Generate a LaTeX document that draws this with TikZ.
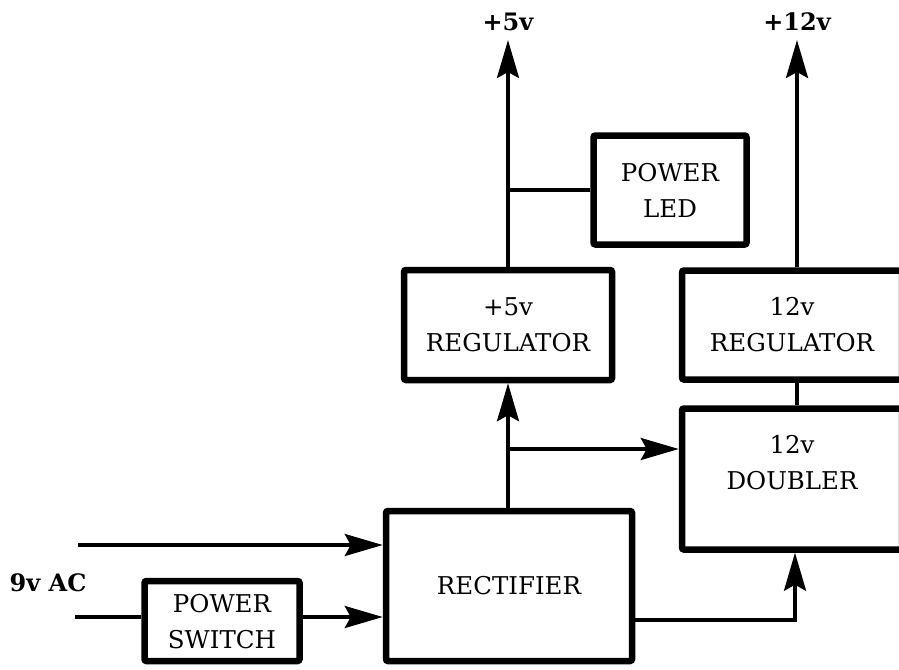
\documentclass[tikz,border=0pt]{standalone}
\usepackage{fontspec}
\setmainfont{DejaVu Serif}
\usetikzlibrary{arrows.meta,positioning}

\begin{document}
\begin{tikzpicture}[x=1pt, y=-1pt,
    blk/.style={draw, line width=6.5pt, rounded corners=2pt, align=center, inner sep=0pt,
                font=\fontsize{24.5}{36}\selectfont},
    wire/.style={line width=3.5pt},
    feed/.style={wire, -{Stealth[length=38pt, width=22pt, inset=6pt]}},
    rail/.style={font=\bfseries\fontsize{24}{28}\selectfont}]
    \useasboundingbox (0,0) rectangle (899,669);
    \clip (0,0) rectangle (899,669);

    % Blocks (the 12v ones run off the right edge)
    \node[blk, minimum width=153pt, minimum height=109pt, text depth=-8pt] (LED) at (670,190) {POWER\\LED};
    \node[blk, minimum width=208pt, minimum height=110pt] (REG5) at (508,325) {+5v\\REGULATOR};
    \node[blk, minimum width=220pt, minimum height=109pt] (REG12) at (792,325) {12v\\REGULATOR};
    \node[blk, minimum width=220pt, minimum height=141pt, text depth=34pt] (DBL) at (792,479) {12v\\DOUBLER};
    \node[blk, minimum width=246pt, minimum height=150pt] (RECT) at (509,586) {RECTIFIER};
    \node[blk, minimum width=155pt, minimum height=80pt, text depth=-8pt] (SW) at (222,621) {POWER\\SWITCH};

    % Outputs and inputs
    \coordinate (top5) at (508,40);
    \coordinate (top12) at (797,40);
    \coordinate (split) at (508,449);
    \coordinate (rd) at (795,620);
    \coordinate (in1) at (78,545);
    \coordinate (in2) at (75,617);
    \node[rail, anchor=south, yshift=6pt] (V5) at (top5) {+5v};
    \node[rail, anchor=south, yshift=6pt] (V12) at (top12) {+12v};
    \node[rail] (AC) at (48,583) {9v AC};

    % +5v rail
    \draw[feed] (REG5.north) -- (top5);
    \draw[wire] (LED.west) -- (LED.west -| REG5.north);
    \draw[feed] (RECT.north -| REG5.south) -- (REG5.south);
    \draw[feed] (split) -- (split -| DBL.west);

    % +12v rail
    \draw[feed] (REG12.north -| top12) -- (top12);
    \draw[wire] (REG12.south -| top12) -- (DBL.north -| top12);
    \draw[feed] (rd -| RECT.east) -- (rd) -- (rd |- DBL.south);

    % AC input
    \draw[feed] (in1) -- (in1 -| RECT.west);
    \draw[wire] (in2) -- (in2 -| SW.west);
    \draw[feed] (in2 -| SW.east) -- (in2 -| RECT.west);
\end{tikzpicture}
\end{document}
